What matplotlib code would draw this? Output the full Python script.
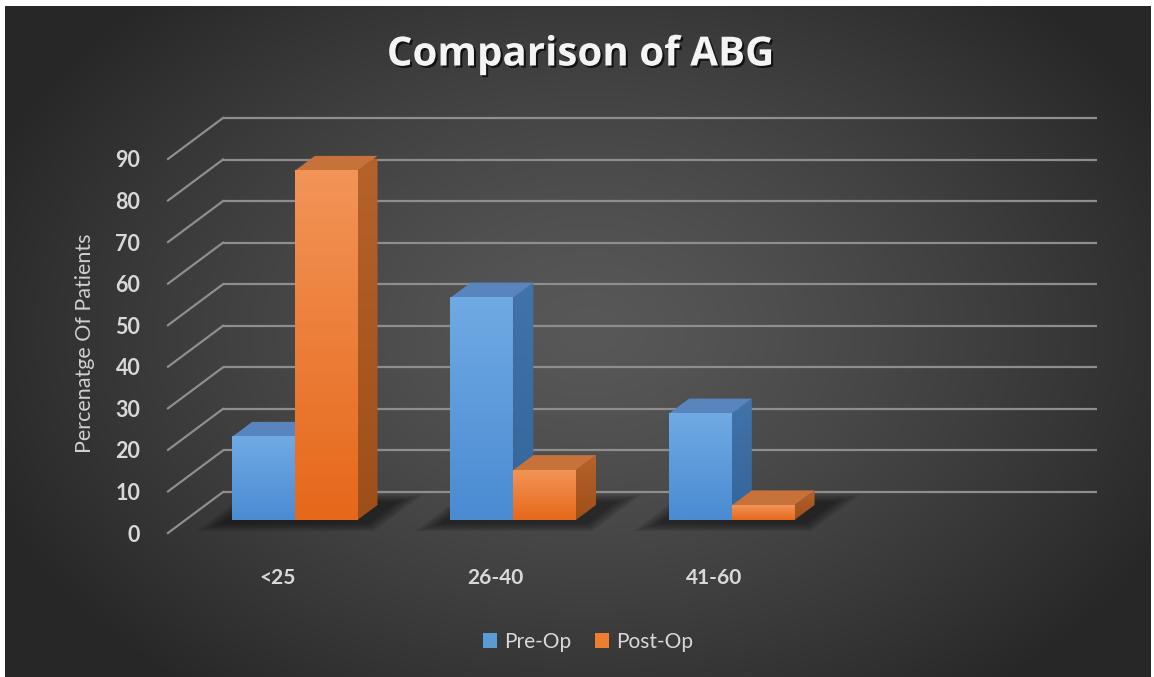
import numpy as np
import matplotlib.pyplot as plt
import matplotlib.patheffects as pe
from matplotlib.patches import Polygon, Patch, Rectangle
from matplotlib.colors import to_rgb

# data
categories = ['<25', '26-40', '41-60']
pre_op = [20, 53.5, 25.6]
post_op = [84, 12, 3.5]
series_names = ['Pre-Op', 'Post-Op']
yticks = list(range(0, 100, 10))

W, H = 1154, 677
fig = plt.figure(figsize=(W / 100, H / 100), dpi=100)

# dark radial background
bg = fig.add_axes([0, 0, 1, 1])
bg.axis('off')
yy, xx = np.mgrid[0:H, 0:W]
r = np.sqrt(((xx - 590) / 650.0) ** 2 + ((yy - 330) / 460.0) ** 2)
c_in, c_out = 0x58 / 255, 0x27 / 255
g = c_in - (c_in - c_out) * np.clip(r, 0, 1) ** 1.3
bg.imshow(np.dstack([g, g, g]), aspect='auto', extent=(0, 1, 0, 1))
bg.set_xlim(0, 1)
bg.set_ylim(0, 1)

# plot area: front-left floor corner at (168, 533) px
x0, y0 = 168, 533
px_cat, px_val = 218.5, 4.156
ax = fig.add_axes([x0 / W, (H - y0) / H, 4 * px_cat / W, 90 * px_val / H])
ax.patch.set_alpha(0)
for s in ax.spines.values():
    s.set_visible(False)

DX = 55 / px_cat     # depth shift, category units
DV = 41 / px_val     # depth shift, value units


def off(x, v, d):
    return (x + DX * d, v + DV * d)


grid_c = '#8e8e8e'
for v in yticks:
    ax.plot([-0.5 + DX, 3.5 + DX], [v + DV, v + DV], color=grid_c, lw=1.6,
            clip_on=False, zorder=1, solid_capstyle='butt')
    ax.plot([-0.5, -0.5 + DX], [v, v + DV], color=grid_c, lw=1.6,
            clip_on=False, zorder=1)

w = 0.287
d0, d1 = 0.317, 0.683

# soft shadows on the floor
for i in range(len(categories)):
    for k in range(6):
        e = 0.014 * (6 - k)
        ed = 0.035 * (6 - k)
        pts = [off(i - w - 0.01 - e, 0, d0 - 0.06 - ed),
               off(i + w + 0.06 + e, 0, d0 - 0.06 - ed),
               off(i + w + 0.06 + e, 0, d1 + 0.04 + ed),
               off(i - w - 0.01 - e, 0, d1 + 0.04 + ed)]
        ax.add_patch(Polygon(pts, closed=True, facecolor='black', edgecolor='none',
                             alpha=0.09, zorder=2, clip_on=False))


def vgrad(c_top, c_bot, n=64):
    a, b = np.array(to_rgb(c_top)), np.array(to_rgb(c_bot))
    t = np.linspace(0, 1, n)[:, None]
    return (a + (b - a) * t)[:, None, :]


def draw_bar(xl, xr, v, front, top_c, side, z):
    # right face
    side_pts = [off(xr, 0, d0), off(xr, 0, d1), off(xr, v, d1), off(xr, v, d0)]
    clip = Polygon(side_pts, closed=True, facecolor='none', edgecolor='none')
    ax.add_patch(clip)
    im = ax.imshow(vgrad(*side), aspect='auto', zorder=z,
                   extent=(xr + DX * d0, xr + DX * d1, DV * d0, v + DV * d1))
    im.set_clip_path(clip)
    # top face
    top_pts = [off(xl, v, d0), off(xr, v, d0), off(xr, v, d1), off(xl, v, d1)]
    ax.add_patch(Polygon(top_pts, closed=True, facecolor=top_c, edgecolor='none',
                         zorder=z, clip_on=False))
    # front face
    im = ax.imshow(vgrad(*front), aspect='auto', zorder=z + 0.1,
                   extent=(xl + DX * d0, xr + DX * d0, DV * d0, v + DV * d0))
    im.set_clip_on(False)


blue = dict(front=('#70aae4', '#4a8bd2'), top_c='#5885bd', side=('#4174ab', '#34649a'))
orange = dict(front=('#f29457', '#e6681a'), top_c='#c7713b', side=('#b6622b', '#9e4f19'))

for i in range(len(categories)):
    draw_bar(i - w, i, pre_op[i], z=3 + i, **blue)
    draw_bar(i, i + w, post_op[i], z=3.5 + i, **orange)

ax.set_xlim(-0.5, 3.5)
ax.set_ylim(0, 90)
ax.set_aspect('auto')

txt_c = '#d9d9d9'
ax.set_yticks(yticks)
ax.set_yticklabels([str(t) for t in yticks])
ax.tick_params(axis='y', length=0, pad=20, labelsize=15.5, labelcolor=txt_c)
ax.set_xticks(range(len(categories)))
ax.set_xticklabels(categories)
ax.tick_params(axis='x', length=0, pad=25, labelsize=15, labelcolor=txt_c)
for lab in ax.get_yticklabels() + ax.get_xticklabels():
    lab.set_fontfamily('Lato')
    lab.set_fontweight('bold')

ax.text(-0.0944, 0.507, 'Percenatge Of Patients', transform=ax.transAxes,
        rotation=90, ha='center', va='center', fontsize=15.5, color='#d0d0d0',
        family='Lato')

handles = [Patch(facecolor='#5b9bd5'), Patch(facecolor='#ed7d31')]
leg = ax.legend(handles, series_names, loc='center', ncol=2, frameon=False,
                bbox_to_anchor=(588 / W, 1 - 642 / H), bbox_transform=fig.transFigure,
                handlelength=0.7, handleheight=0.7, handletextpad=0.35,
                columnspacing=1.1, prop={'family': 'Lato', 'size': 15})
for t in leg.get_texts():
    t.set_color(txt_c)

fig.text(580 / W, 1 - 55 / H, 'Comparison of ABG', ha='center', va='center',
         fontsize=29, fontweight='bold', family='Open Sans', color='#f4f4f4',
         path_effects=[pe.SimplePatchShadow(offset=(1.5, -1.5), shadow_rgbFace='black',
                                            alpha=0.7), pe.Normal()])

# white frame strips
for rect in [(0, 1 - 6 / H, 1, 6 / H), (0, 0, 5 / W, 1), (1 - 3 / W, 0, 3 / W, 1)]:
    fig.add_artist(Rectangle(rect[:2], rect[2], rect[3], transform=fig.transFigure,
                             facecolor='white', edgecolor='none', zorder=10))

fig.savefig('out.png', dpi=100)
